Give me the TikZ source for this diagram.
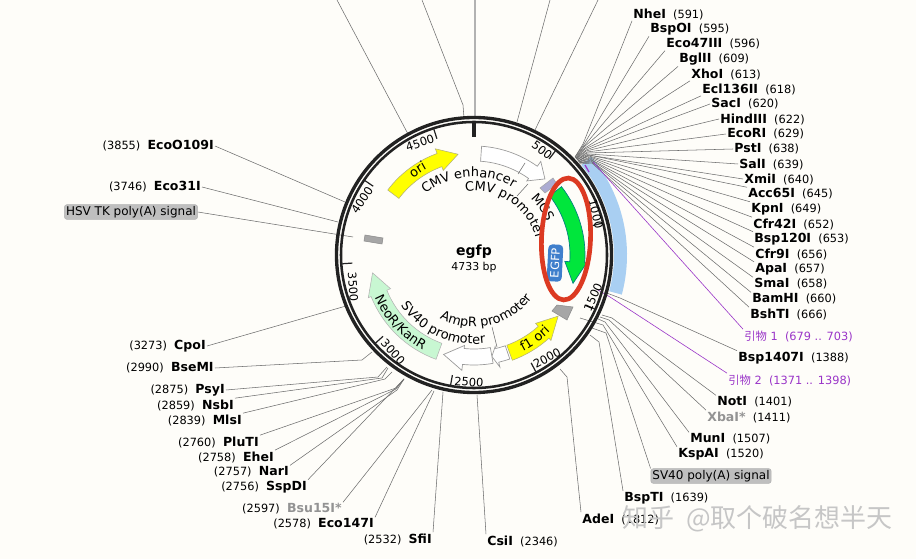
\documentclass[tikz,border=0pt]{standalone}
\usepackage{fontspec}
\setmainfont{DejaVu Sans}
\newfontfamily\cjk{Noto Sans CJK SC}
\usepackage{tikz}
\usetikzlibrary{shapes,decorations.text,positioning}

\definecolor{paper}{HTML}{FEFDF9}
\definecolor{bandblue}{HTML}{A9CFF2}
\definecolor{ringdark}{HTML}{222222}
\definecolor{primerpurple}{HTML}{9A35C8}
\definecolor{oriyellow}{HTML}{FFFF00}
\definecolor{gfpgreen}{HTML}{00E63C}
\definecolor{neogreen}{HTML}{C8F7D2}
\definecolor{redmark}{HTML}{DC3A22}
\definecolor{badgeblue}{HTML}{3F7FCC}

% arrow along the ring: style, tail, head base, tip angle, body radii, head radii, tip radius
\newcommand{\gene}[9]{\draw[#1] (#2:#6) arc (#2:#3:#6) -- (#3:#8) -- (#4:#9) -- (#3:#7) -- (#3:#5) arc (#3:#2:#5) -- cycle;}
\newcommand{\curved}[4]{\path[decorate,decoration={text along path,text align=center,text={|\fontsize{9.7}{11}\selectfont|#4}}] (#1:#3) arc (#1:#2:#3);}
\newcommand{\nm}[1]{{\fontsize{9.4}{11}\selectfont\bfseries #1}\ \ }
\newcommand{\nmr}[1]{\ \ {\fontsize{9.4}{11}\selectfont\bfseries #1}}
\newcommand{\grey}[1]{{\fontsize{9.4}{11}\selectfont\bfseries\color{gray!85} #1}}

\begin{document}
\begin{tikzpicture}[x=0.75pt,y=-0.75pt]
	\tikzstyle{Site}	= [inner sep=0pt, outer sep=1pt, font=\fontsize{8.5}{10}\selectfont, text=black]
	\tikzstyle{East}	= [Site, anchor=west]
	\tikzstyle{West}	= [Site, anchor=east]
	\tikzstyle{Primer}	= [East, text=primerpurple]
	\tikzstyle{Signal}	= [draw=gray!60, fill=gray!50, rounded corners=2pt, inner sep=1.2pt, font=\fontsize{9}{10.5}\selectfont]
	\tikzstyle{Tick}	= [inner sep=0pt, font=\fontsize{8.6}{10}\selectfont]
	\tikzstyle{Leader}	= [draw=gray!85!black, line width=0.4pt]
	\tikzstyle{Oligo}	= [draw=primerpurple, line width=0.45pt]
	\tikzstyle{Arrow}	= [draw=gray!80, line width=0.5pt, fill=white]
	\tikzstyle{Yellow}	= [draw=gray!70!yellow, line width=0.4pt, fill=oriyellow]
	\tikzstyle{Green}	= [draw=teal, line width=0.5pt, fill=gfpgreen]
	\tikzstyle{Neo}		= [draw=gray!60, line width=0.4pt, fill=neogreen]
	\tikzstyle{Block}	= [draw=gray!90, line width=0.4pt, fill=gray!70]

	\useasboundingbox (0,0) rectangle (916,559);
	\clip (0,0) rectangle (916,559);
	\fill[paper] (0,0) rectangle (916,559);

	% centre of the ring
	\coordinate (centre) at (474,255);

	\begin{scope}[shift={(centre)}]
		\fill[bandblue] (-40:140) arc (-40:15:140) -- (15:153) arc (15:-40:153) -- cycle;
	\end{scope}

	% sites to the right
	\node (NheI) at (632,14) [East] {\nm{NheI}(591)};
	\node (BspOI) at (649,29) [East] {\nm{BspOI}(595)};
	\node (Eco47III) at (665,44) [East] {\nm{Eco47III}(596)};
	\node (BglII) at (678,59) [East] {\nm{BglII}(609)};
	\node (XhoI) at (690,74) [East] {\nm{XhoI}(613)};
	\node (Ecl136II) at (701,89) [East] {\nm{Ecl136II}(618)};
	\node (SacI) at (710,104) [East] {\nm{SacI}(620)};
	\node (HindIII) at (719,119) [East] {\nm{HindIII}(622)};
	\node (EcoRI) at (726,134) [East] {\nm{EcoRI}(629)};
	\node (PstI) at (733,149) [East] {\nm{PstI}(638)};
	\node (SalI) at (738,164) [East] {\nm{SalI}(639)};
	\node (XmiI) at (743,179) [East] {\nm{XmiI}(640)};
	\node (Acc65I) at (747,194) [East] {\nm{Acc65I}(645)};
	\node (KpnI) at (750,209) [East] {\nm{KpnI}(649)};
	\node (Cfr42I) at (752,224) [East] {\nm{Cfr42I}(652)};
	\node (Bsp120I) at (753,239) [East] {\nm{Bsp120I}(653)};
	\node (Cfr9I) at (754,254) [East] {\nm{Cfr9I}(656)};
	\node (ApaI) at (754,269) [East] {\nm{ApaI}(657)};
	\node (SmaI) at (753,284) [East] {\nm{SmaI}(658)};
	\node (BamHI) at (751,299) [East] {\nm{BamHI}(660)};
	\node (BshTI) at (749,314) [East] {\nm{BshTI}(666)};
	\node (PrimerA) at (743,336) [Primer] {{\cjk 引物} 1\ \ (679 .. 703)};
	\node (Bsp1407I) at (737,358) [East] {\nm{Bsp1407I}(1388)};
	\node (PrimerB) at (727,380) [Primer] {{\cjk 引物} 2\ \ (1371 .. 1398)};
	\node (NotI) at (716,402) [East] {\nm{NotI}(1401)};
	\node (XbaI) at (706,417) [East] {\grey{XbaI*}\ \ (1411)};
	\node (MunI) at (689,439) [East] {\nm{MunI}(1507)};
	\node (KspAI) at (677,454) [East] {\nm{KspAI}(1520)};
	\node (SVpolyA) at (711,476) [Signal] {SV40 poly(A) signal};
	\node (BspTI) at (623,498) [East] {\nm{BspTI}(1639)};
	\node (AdeI) at (581,519) [East] {\nm{AdeI}(1812)};
	\node (CsiI) at (486,541) [East] {\nm{CsiI}(2346)};

	% sites to the left
	\node (SfiI) at (433,539) [West] {(2532)\nmr{SfiI}};
	\node (Eco147I) at (375,524) [West] {(2578)\nmr{Eco147I}};
	\node (Bsu15I) at (343,509) [West] {(2597)\ \ \grey{Bsu15I*}};
	\node (SspDI) at (308,487) [West] {(2756)\nmr{SspDI}};
	\node (NarI) at (290,472) [West] {(2757)\nmr{NarI}};
	\node (EheI) at (275,457) [West] {(2758)\nmr{EheI}};
	\node (PluTI) at (260,442) [West] {(2760)\nmr{PluTI}};
	\node (MlsI) at (243,420) [West] {(2839)\nmr{MlsI}};
	\node (NsbI) at (235,405) [West] {(2859)\nmr{NsbI}};
	\node (PsyI) at (226,390) [West] {(2875)\nmr{PsyI}};
	\node (BseMI) at (215,368) [West] {(2990)\nmr{BseMI}};
	\node (CpoI) at (207,346) [West] {(3273)\nmr{CpoI}};
	\node (Eco31I) at (202,187) [West] {(3746)\nmr{Eco31I}};
	\node (EcoO109I) at (215,146) [West] {(3855)\nmr{EcoO109I}};
	\node (HSVpolyA) at (131,212) [Signal] {HSV TK poly(A) signal};

	% leaders, bend and foot on the ring
	\coordinate (bNheI) at (583,144);	\coordinate (rNheI) at (575,157);
	\coordinate (bBspOI) at (583.5,145);	\coordinate (rBspOI) at (575,157);
	\coordinate (bEco47III) at (584,146);	\coordinate (rEco47III) at (575,158);
	\coordinate (bBglII) at (584,147);	\coordinate (rBglII) at (576,158);
	\coordinate (bXhoI) at (585,148);	\coordinate (rXhoI) at (576,158);
	\coordinate (bEcl136II) at (585,149);	\coordinate (rEcl136II) at (576,159);
	\coordinate (bSacI) at (586,150);	\coordinate (rSacI) at (576,159);
	\coordinate (bHindIII) at (586,151);	\coordinate (rHindIII) at (577,159);
	\coordinate (bEcoRI) at (587,152);	\coordinate (rEcoRI) at (577,160);
	\coordinate (bPstI) at (587,153);	\coordinate (rPstI) at (577,160);
	\coordinate (bSalI) at (588,154);	\coordinate (rSalI) at (577,160);
	\coordinate (bXmiI) at (588,155);	\coordinate (rXmiI) at (578,161);
	\coordinate (bAcc65I) at (589,155);	\coordinate (rAcc65I) at (578,161);
	\coordinate (bKpnI) at (589,156);	\coordinate (rKpnI) at (578,161);
	\coordinate (bCfr42I) at (590,157);	\coordinate (rCfr42I) at (578,162);
	\coordinate (bBsp120I) at (590,158);	\coordinate (rBsp120I) at (579,162);
	\coordinate (bCfr9I) at (590,159);	\coordinate (rCfr9I) at (579,162);
	\coordinate (bApaI) at (591,160);	\coordinate (rApaI) at (579,163);
	\coordinate (bSmaI) at (591,161);	\coordinate (rSmaI) at (579,163);
	\coordinate (bBamHI) at (592,162);	\coordinate (rBamHI) at (580,163);
	\coordinate (bBshTI) at (592,163);	\coordinate (rBshTI) at (580,164);
	\coordinate (bBsp1407I) at (620,298);	\coordinate (rBsp1407I) at (604,292);
	\coordinate (bNotI) at (612,318);	\coordinate (rNotI) at (602,315);
	\coordinate (bXbaI) at (609,320);	\coordinate (rXbaI) at (600,317);
	\coordinate (bMunI) at (605,322);	\coordinate (rMunI) at (596,318);
	\coordinate (bKspAI) at (603,325);	\coordinate (rKspAI) at (580,318);
	\coordinate (bSVpolyA) at (606,333);	\coordinate (rSVpolyA) at (592,328);
	\coordinate (bBspTI) at (599,342);	\coordinate (rBspTI) at (590,335);
	\coordinate (bAdeI) at (567,377);	\coordinate (rAdeI) at (560,369);
	\coordinate (rCsiI) at (477,395);
	\coordinate (rSfiI) at (443,392);
	\coordinate (rEco147I) at (434,391);
	\coordinate (rBsu15I) at (432,390);
	\coordinate (rSspDI) at (404,379);
	\coordinate (bNarI) at (397,390);	\coordinate (rNarI) at (404,379);
	\coordinate (bEheI) at (396,389);	\coordinate (rEheI) at (404,379);
	\coordinate (bPluTI) at (396,388);	\coordinate (rPluTI) at (404,379);
	\coordinate (bMlsI) at (385,379);	\coordinate (rMlsI) at (392,372);
	\coordinate (bNsbI) at (382,378);	\coordinate (rNsbI) at (388,368);
	\coordinate (bPsyI) at (378,377);	\coordinate (rPsyI) at (387,367);
	\coordinate (bBseMI) at (362,360);	\coordinate (rBseMI) at (372,352);
	\coordinate (rCpoI) at (346,306);
	\coordinate (rEco31I) at (338,222);
	\coordinate (rEcoO109I) at (345,202);
	\coordinate (rHSVpolyA) at (353,237);
	% leaders that run off the top
	\coordinate (topA) at (337,0);		\coordinate (rTopA) at (408,134);
	\coordinate (topB) at (422,0);		\coordinate (bTopB) at (463,105);	\coordinate (rTopB) at (464,118);
	\coordinate (topC) at (475,0);		\coordinate (rTopC) at (475,118);
	\coordinate (topD) at (550,0);		\coordinate (rTopD) at (517,122);
	\coordinate (topE) at (598,0);		\coordinate (rTopE) at (535,130);

	\draw [Leader] (NheI.south west) to (bNheI) to (rNheI);
	\draw [Leader] (BspOI.south west) to (bBspOI) to (rBspOI);
	\draw [Leader] (Eco47III.south west) to (bEco47III) to (rEco47III);
	\draw [Leader] (BglII.south west) to (bBglII) to (rBglII);
	\draw [Leader] (XhoI.south west) to (bXhoI) to (rXhoI);
	\draw [Leader] (Ecl136II.south west) to (bEcl136II) to (rEcl136II);
	\draw [Leader] (SacI.west) to (bSacI) to (rSacI);
	\draw [Leader] (HindIII.west) to (bHindIII) to (rHindIII);
	\draw [Leader] (EcoRI.west) to (bEcoRI) to (rEcoRI);
	\draw [Leader] (PstI.west) to (bPstI) to (rPstI);
	\draw [Leader] (SalI.west) to (bSalI) to (rSalI);
	\draw [Leader] (XmiI.west) to (bXmiI) to (rXmiI);
	\draw [Leader] (Acc65I.north west) to (bAcc65I) to (rAcc65I);
	\draw [Leader] (KpnI.north west) to (bKpnI) to (rKpnI);
	\draw [Leader] (Cfr42I.north west) to (bCfr42I) to (rCfr42I);
	\draw [Leader] (Bsp120I.north west) to (bBsp120I) to (rBsp120I);
	\draw [Leader] (Cfr9I.north west) to (bCfr9I) to (rCfr9I);
	\draw [Leader] (ApaI.north west) to (bApaI) to (rApaI);
	\draw [Leader] (SmaI.north west) to (bSmaI) to (rSmaI);
	\draw [Leader] (BamHI.north west) to (bBamHI) to (rBamHI);
	\draw [Leader] (BshTI.north west) to (bBshTI) to (rBshTI);
	\draw [Leader] (Bsp1407I.north west) to (bBsp1407I) to (rBsp1407I);
	\draw [Leader] (NotI.north west) to (bNotI) to (rNotI);
	\draw [Leader] (XbaI.north west) to (bXbaI) to (rXbaI);
	\draw [Leader] (MunI.north west) to (bMunI) to (rMunI);
	\draw [Leader] (KspAI.north west) to (bKspAI) to (rKspAI);
	\draw [Leader] (SVpolyA.north west) to (bSVpolyA) to (rSVpolyA);
	\draw [Leader] (BspTI.north west) to (bBspTI) to (rBspTI);
	\draw [Leader] (AdeI.north west) to (bAdeI) to (rAdeI);
	\draw [Leader] (CsiI.north west) to (rCsiI);
	\draw [Leader] (SfiI.north east) to (rSfiI);
	\draw [Leader] (Eco147I.north east) to (rEco147I);
	\draw [Leader] (Bsu15I.north east) to (rBsu15I);
	\draw [Leader] (SspDI.north east) to (rSspDI);
	\draw [Leader] (NarI.north east) to (bNarI) to (rNarI);
	\draw [Leader] (EheI.north east) to (bEheI) to (rEheI);
	\draw [Leader] (PluTI.north east) to (bPluTI) to (rPluTI);
	\draw [Leader] (MlsI.north east) to (bMlsI) to (rMlsI);
	\draw [Leader] (NsbI.north east) to (bNsbI) to (rNsbI);
	\draw [Leader] (PsyI.east) to (bPsyI) to (rPsyI);
	\draw [Leader] (BseMI.east) to (bBseMI) to (rBseMI);
	\draw [Leader] (CpoI.east) to (rCpoI);
	\draw [Leader] (Eco31I.east) to (rEco31I);
	\draw [Leader] (EcoO109I.east) to (rEcoO109I);
	\draw [Leader] (HSVpolyA.east) to (rHSVpolyA);
	\draw [Leader] (topA) to (rTopA);
	\draw [Leader] (topB) to (bTopB) to (rTopB);
	\draw [draw=gray!60, line width=0.8pt] (topC) to (rTopC);
	\draw [Leader] (topD) to (rTopD);
	\draw [Leader] (topE) to (rTopE);

	% primers
	\coordinate (aOne) at (593,162);	\coordinate (aTwo) at (585,165);	\coordinate (aThree) at (589,172);
	\coordinate (bOne) at (610,297);	\coordinate (bTwo) at (598,290);
	\draw [Oligo] (PrimerA.north west) to (aOne);
	\draw [Oligo, line width=0.9pt] (aTwo) to (aThree);
	\draw [Oligo] (PrimerB.north west) to (bOne) to (bTwo);

	\begin{scope}[shift={(centre)}]
		% ring and ticks
		\draw [ringdark, line width=2.5pt] (0,0) circle (137.5);
		\draw [ringdark, line width=1.9pt] (0,0) circle (133);
		\draw [ringdark, line width=2.5pt] (-90:118) to (-90:133);
		\draw [ringdark, line width=0.9pt] (-51.97:122) to (-51.97:132);
		\draw [ringdark, line width=0.9pt] (-13.94:122) to (-13.94:132);
		\draw [ringdark, line width=0.9pt] (24.1:122) to (24.1:132);
		\draw [ringdark, line width=0.9pt] (62.1:122) to (62.1:132);
		\draw [ringdark, line width=0.9pt] (100.2:122) to (100.2:132);
		\draw [ringdark, line width=0.9pt] (138.2:122) to (138.2:132);
		\draw [ringdark, line width=0.9pt] (176.2:122) to (176.2:132);
		\draw [ringdark, line width=0.9pt] (214.3:122) to (214.3:132);
		\draw [ringdark, line width=0.9pt] (252.3:122) to (252.3:132);

		% features
		\gene{Yellow}{-143}{-110}{-99}{94}{108}{90}{113}{102}
		\gene{Arrow}{-86}{-54.5}{-47}{94}{109}{91}{115}{104}
		\gene{Green}{-38}{4}{16}{96}{111}{91}{113}{103}
		\gene{Yellow}{70}{48}{36}{96}{112}{92}{115}{104}
		\gene{Arrow}{71}{77}{80}{96}{110}{94}{115}{103}
		\gene{Arrow}{80}{96}{107}{94}{110}{91}{116}{104}
		\gene{Neo}{110}{158}{170}{94}{111}{90}{114}{103}

		% curved labels
		\curved{-136}{-52}{78}{CMV enhancer}
		\curved{-98}{-14}{64}{CMV promoter}
		\curved{-50}{-20}{80}{MCS}
		\curved{153}{75}{89}{SV40 promoter}
		\curved{125}{30}{72}{AmpR promoter}
		\curved{165}{110}{108}{NeoR/KanR}
		\curved{72}{36}{108}{f1 ori}
		\curved{-143}{-104}{98}{ori}
	\end{scope}

	% small leaders inside the ring
	\coordinate (aEnh) at (525,163);	\coordinate (bEnh) at (518,174);
	\coordinate (aPro) at (528,184);	\coordinate (bPro) at (517,196);
	\coordinate (aAmp) at (492,327);	\coordinate (bAmp) at (497,347);
	\draw [Leader] (aEnh) to (bEnh);
	\draw [Leader] (aPro) to (bPro);
	\draw [Leader] (aAmp) to (bAmp);

	% blocks
	\draw [draw=gray!70, fill=blue!30!gray!50, line width=0.4pt] (540,188) -- (553,178) -- (557,184) -- (545,193) -- cycle;
	\draw [Block] (557,305) -- (573,307) -- (567,320) -- (552,311) -- cycle;
	\draw [Block] (365,235) -- (383,238) -- (382,244) -- (364,241) -- cycle;

	% ticks text
	\node (tA) at (542,150) [Tick, rotate=-38] {500};
	\node (tB) at (596,214) [Tick, rotate=-76] {1000};
	\node (tC) at (593,297) [Tick, rotate=66] {1500};
	\node (tD) at (547,358) [Tick, rotate=28] {2000};
	\node (tE) at (469,382) [Tick, rotate=-4] {2500};
	\node (tF) at (393,352) [Tick, rotate=-48] {3000};
	\node (tG) at (353,287) [Tick, rotate=-86] {3500};
	\node (tH) at (362,200) [Tick, rotate=56] {4000};
	\node (tI) at (420,143) [Tick, rotate=18] {4500};

	% title
	\node (Title) at (474,252) [inner sep=0pt, font=\fontsize{10.5}{12}\selectfont\bfseries] {egfp};
	\node (Size) at (474,267) [inner sep=0pt, font=\fontsize{8.2}{10}\selectfont] {4733 bp};

	% gene badge and mark
	\node (EGFP) at (555,263) [rounded corners=3pt, fill=badgeblue, text=white, minimum width=27.7pt, minimum height=11.2pt, inner sep=0pt, rotate=87, font=\fontsize{8.6}{10}\selectfont] {EGFP};
	\draw [redmark, line width=3.5pt, rotate around={-2.3:(566,239)}] (566,239) ellipse (24.5 and 61);

	% watermark
	\node (Mark) at (622,519) [anchor=west, inner sep=0pt, text=gray!45, font=\cjk\fontsize{19.5}{22}\selectfont] {知乎\hspace{4.5pt} @取个破名想半天};
\end{tikzpicture}
\end{document}
